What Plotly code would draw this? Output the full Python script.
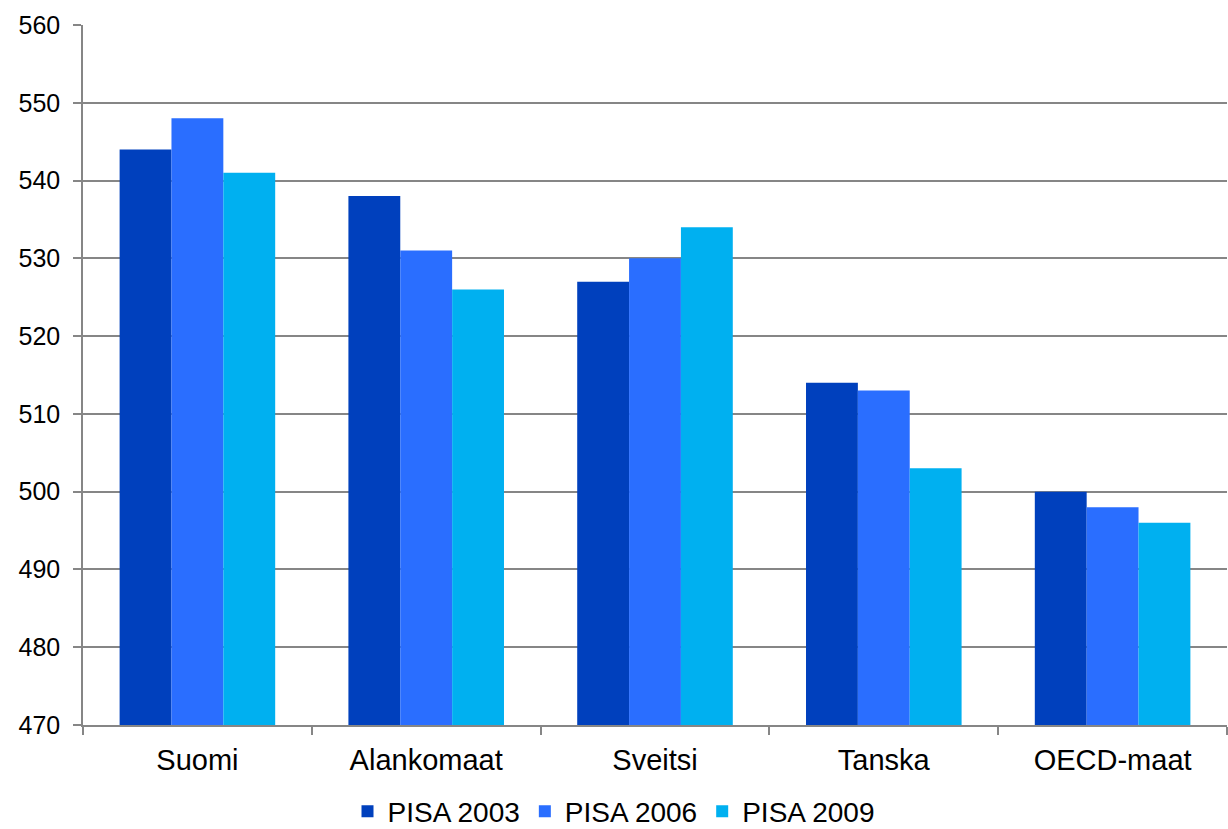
import plotly.graph_objects as go

categories = ["Suomi", "Alankomaat", "Sveitsi", "Tanska", "OECD-maat"]
pisa2003 = [544, 538, 527, 514, 500]
pisa2006 = [548, 531, 530, 513, 498]
pisa2009 = [541, 526, 534, 503, 496]
series_names = ["PISA 2003", "PISA 2006", "PISA 2009"]
colors = ["#0040BD", "#2A6EFF", "#00B0F0"]

fig = go.Figure()
for name, vals, col in zip(series_names, [pisa2003, pisa2006, pisa2009], colors):
    fig.add_trace(go.Bar(x=categories, y=vals, name=name, marker_color=col,
                         marker_line_width=0))

fig.update_layout(
    width=1228, height=829,
    margin=dict(l=83, r=1, t=25, b=104, autoexpand=False),
    paper_bgcolor="white", plot_bgcolor="white",
    barmode="group", bargap=0.32, bargroupgap=0,
    font=dict(family="Liberation Sans, Arial, sans-serif", size=25, color="black"),
    legend=dict(orientation="h", x=0.5, xanchor="center", xref="container",
                y=0.021, yanchor="middle", yref="container",
                font=dict(size=28), itemwidth=30, tracegroupgap=0),
    xaxis=dict(showline=True, linecolor="#868686", linewidth=1.5,
               ticks="outside", ticklen=8, tickcolor="#868686", tickwidth=1.5,
               tickson="boundaries", showgrid=False, zeroline=False,
               tickfont=dict(size=29), ticklabelstandoff=8, automargin=False),
    yaxis=dict(range=[470, 560], dtick=10, showline=True, linecolor="#868686", linewidth=1.5,
               ticks="outside", ticklen=8, tickcolor="#868686", tickwidth=1.5,
               showgrid=True, gridcolor="#868686", gridwidth=1.5, zeroline=False,
               tickfont=dict(size=25), ticklabelstandoff=8, automargin=False),
)

fig.write_html("out.html")
